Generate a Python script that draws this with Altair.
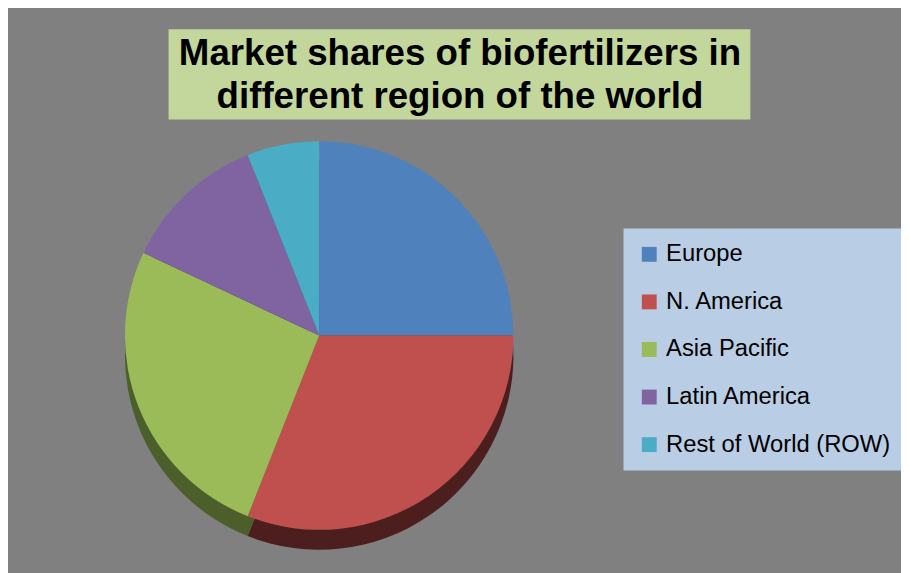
import altair as alt
import pandas as pd

regions = ["Europe", "N. America", "Asia Pacific", "Latin America", "Rest of World (ROW)"]
shares = [25, 31, 26, 12, 6]
top_colors = ["#4f81bd", "#c0504d", "#9bbb59", "#8064a2", "#4bacc6"]
side_colors = ["#2c4a6e", "#4d1e1e", "#4c5e2a", "#3f3152", "#246173"]
title_lines = ["Market shares of biofertilizers in", "different region of the world"]

df = pd.DataFrame({"region": regions, "share": shares, "idx": list(range(len(regions)))})

CX, CY, R, DEPTH = 314, 328, 196, 20

side = alt.Chart(df).mark_arc(radius=R, stroke=None).encode(
    theta=alt.Theta("share:Q", stack=True),
    order=alt.Order("idx:Q"),
    color=alt.Color("region:N", scale=alt.Scale(domain=regions, range=side_colors), legend=None),
    x=alt.value(CX),
    y=alt.value(CY + DEPTH),
)

top = alt.Chart(df).mark_arc(radius=R, stroke=None).encode(
    theta=alt.Theta("share:Q", stack=True),
    order=alt.Order("idx:Q"),
    color=alt.Color(
        "region:N",
        scale=alt.Scale(domain=regions, range=top_colors),
        legend=alt.Legend(
            title=None,
            orient="none",
            legendX=621,
            legendY=220,
            fillColor="#b9cde5",
            padding=14,
            symbolType="square",
            symbolSize=225,
            symbolStrokeWidth=0,
            labelFontSize=24,
            labelFont="Liberation Sans",
            labelColor="#000000",
            labelOffset=5,
            rowPadding=24,
            labelLimit=400,
        ),
    ),
    x=alt.value(CX),
    y=alt.value(CY),
)

title_box = alt.Chart(pd.DataFrame({"a": [0]})).mark_rect(color="#c3d69b").encode(
    x=alt.value(162), x2=alt.value(749), y=alt.value(19), y2=alt.value(110)
)

def title_line(i, ypos):
    return alt.Chart(pd.DataFrame({"line": [title_lines[i]]})).mark_text(
        font="Liberation Sans", fontSize=37, fontWeight="bold", color="#000000",
        align="center", baseline="middle"
    ).encode(text="line:N", x=alt.value(456), y=alt.value(ypos))

chart = alt.layer(side, top, title_box, title_line(0, 44), title_line(1, 87)).resolve_scale(
    color="independent"
).properties(
    width=901,
    height=565,
    background="#808080",
    padding=0,
    autosize=alt.AutoSizeParams(type="none"),
).configure_view(stroke=None)

chart.save("out.html", embed_options={"renderer": "svg", "actions": False})
